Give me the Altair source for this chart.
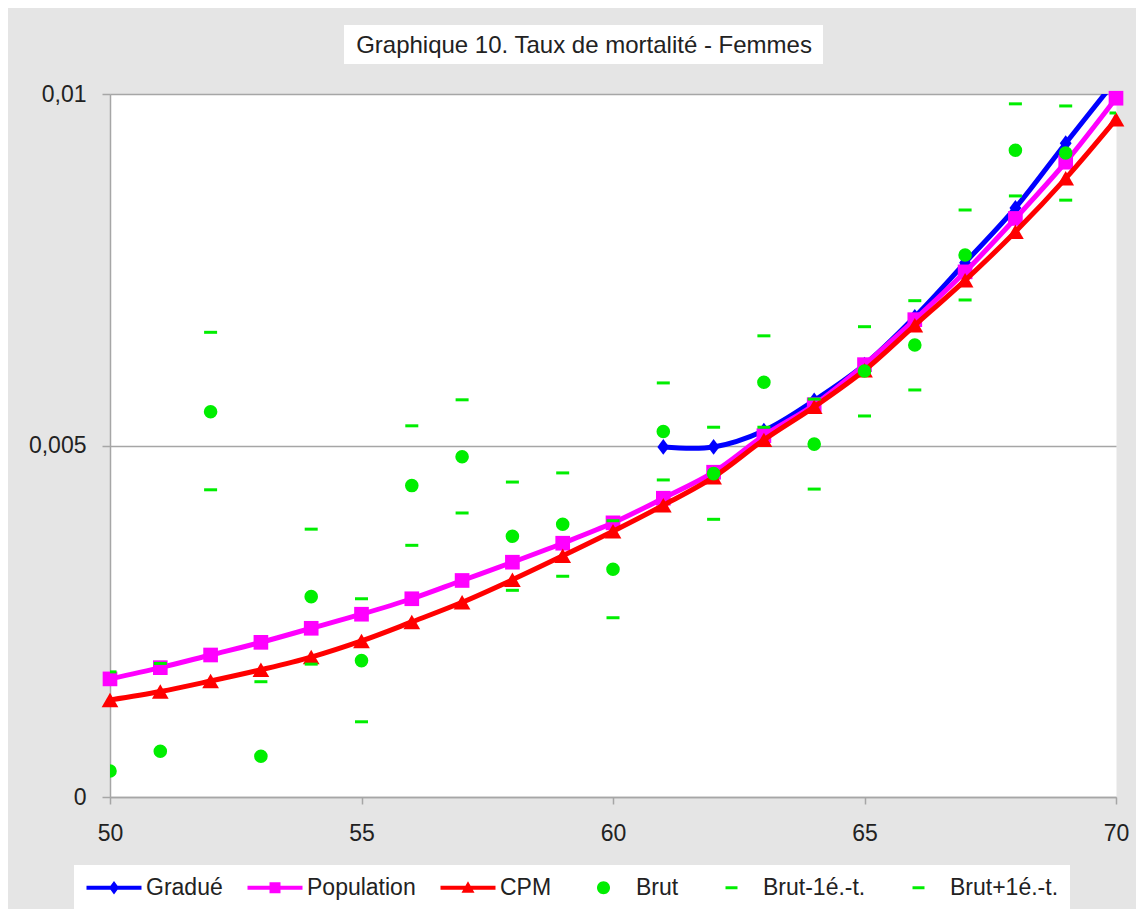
import altair as alt
import pandas as pd

# ---------------- data ----------------
ages = list(range(50, 71))

gradue = [None, None, None, None, None, None, None, None, None, None, None,
          0.00498, 0.00498, 0.00521, 0.00564, 0.00615, 0.00683, 0.00760, 0.00838, 0.00930, 0.01020]

population = [0.00168, 0.00184, 0.00202, 0.00220, 0.00240, 0.00260, 0.00282, 0.00308, 0.00334, 0.00361,
              0.00390, 0.00425, 0.00462, 0.00514, 0.00558, 0.00615, 0.00679, 0.00747, 0.00823, 0.00903, 0.00994]

cpm = [0.00138, 0.00150, 0.00165, 0.00181, 0.00199, 0.00222, 0.00249, 0.00277, 0.00309, 0.00343,
       0.00378, 0.00415, 0.00455, 0.00508, 0.00555, 0.00607, 0.00671, 0.00735, 0.00804, 0.00880, 0.00964]

brut = [0.00037, 0.00065, 0.00548, 0.00058, 0.00285, 0.00194, 0.00443, 0.00484, 0.00371, 0.00388,
        0.00324, 0.00520, 0.00460, 0.00590, 0.00502, 0.00606, 0.00643, 0.00771, 0.00920, 0.00916, None]

brut_moins = [None, None, 0.00437, None, 0.00189, 0.00107, 0.00358, 0.00404, 0.00294, 0.00314,
              0.00255, 0.00451, 0.00395, 0.00526, 0.00438, 0.00542, 0.00579, 0.00707, 0.00855, 0.00849, 0.00973]

brut_plus = [0.00178, 0.00190, 0.00661, 0.00164, 0.00381, 0.00282, 0.00528, 0.00565, 0.00448, 0.00461,
             0.00393, 0.00589, 0.00526, 0.00656, 0.00566, 0.00669, 0.00706, 0.00835, 0.00986, 0.00983, None]

series_names = ["Gradué", "Population", "CPM", "Brut", "Brut-1é.-t.", "Brut+1é.-t."]
series_colors = ["#0000ff", "#ff00ff", "#ff0000", "#00ee00", "#00ee00", "#00ee00"]

x_ticks = [50, 55, 60, 65, 70]
y_ticks = [0, 0.005, 0.01]
title_text = "Graphique 10. Taux de mortalité - Femmes"

# ---------------- styling ----------------
FONT = "Liberation Sans"
GRAY = "#a6a6a6"
TXT = "#222222"

legend_paths = [
    "M-1,-0.2H4.5V0.2H-1Z M1.75,-0.68L2.25,0L1.75,0.68L1.25,0Z",
    "M-1,-0.2H4.5V0.2H-1Z M1.2,-0.55H2.3V0.55H1.2Z",
    "M-1,-0.2H4.5V0.2H-1Z M1.75,-0.65L2.4,0.5H1.1Z",
    "M1.05,0A0.65,0.65 0 1,1 2.35,0A0.65,0.65 0 1,1 1.05,0Z",
    "M1.2,-0.15H2.4V0.15H1.2Z",
    "M1.2,-0.15H2.4V0.15H1.2Z",
]
diamond_path = "M0,-1L0.75,0L0,1L-0.75,0Z"

df = pd.DataFrame({
    "age": ages,
    "gradue": gradue,
    "population": population,
    "cpm": cpm,
    "brut": brut,
    "brut_moins": brut_moins,
    "brut_plus": brut_plus,
})

x_axis = alt.Axis(values=x_ticks, grid=False, title=None, domainColor=GRAY, domainWidth=1.5,
                  tickColor=GRAY, tickWidth=1.5, tickSize=7, labelFont=FONT, labelFontSize=23,
                  labelColor=TXT, labelPadding=18, labelFlush=False)
y_axis = alt.Axis(values=y_ticks, grid=True, gridColor=GRAY, gridWidth=1.5, title=None,
                  domainColor=GRAY, domainWidth=1.5, tickColor=GRAY, tickWidth=1.5, tickSize=8,
                  labelFont=FONT, labelFontSize=23, labelColor=TXT, labelPadding=16,
                  labelExpr="replace(format(datum.value, '~g'), '.', ',')")

X = alt.X("age:Q", scale=alt.Scale(domain=[50, 70], nice=False, zero=False), axis=x_axis)


def Y(field):
    return alt.Y(f"{field}:Q", scale=alt.Scale(domain=[0, 0.01], nice=False), axis=y_axis)


base = alt.Chart(df)
one = pd.DataFrame({"k": [0]})

title_box = alt.Chart(one).mark_rect(color="white").encode(
    x=alt.value(234), x2=alt.value(713), y=alt.value(-69), y2=alt.value(-30)
)
title_txt = alt.Chart(one).mark_text(font=FONT, fontSize=24, color=TXT, align="center",
                                     baseline="middle").encode(
    x=alt.value(474), y=alt.value(-48), text=alt.value(title_text)
)

g_line = base.mark_line(color=series_colors[0], strokeWidth=5, interpolate="catmull-rom", clip=True).encode(x=X, y=Y("gradue"))
g_pts = base.mark_point(shape=diamond_path, filled=True, size=250, color=series_colors[0], opacity=1, clip=True).encode(x=X, y=Y("gradue"))

p_line = base.mark_line(color=series_colors[1], strokeWidth=5, interpolate="catmull-rom", clip=True).encode(x=X, y=Y("population"))
p_pts = base.mark_point(shape="square", filled=True, size=215, color=series_colors[1], opacity=1).encode(x=X, y=Y("population"))

c_line = base.mark_line(color=series_colors[2], strokeWidth=5, interpolate="catmull-rom", clip=True).encode(x=X, y=Y("cpm"))
c_pts = base.mark_point(shape="triangle-up", filled=True, size=280, color=series_colors[2], opacity=1).encode(x=X, y=Y("cpm"))

b_pts = base.mark_point(shape="circle", filled=True, size=185, color=series_colors[3], opacity=1, clip=True).encode(x=X, y=Y("brut"))
m_ticks = base.mark_tick(orient="horizontal", size=13, thickness=3, color=series_colors[4], opacity=1, clip=True).encode(x=X, y=Y("brut_moins"))
pl_ticks = base.mark_tick(orient="horizontal", size=13, thickness=3, color=series_colors[5], opacity=1, clip=True).encode(x=X, y=Y("brut_plus"))

legend_props = dict(orient="none", legendX=-36, legendY=771, direction="horizontal", columns=6,
                    title=None, symbolSize=400, symbolStrokeWidth=0, symbolOpacity=1,
                    labelFont=FONT, labelFontSize=23, labelColor=TXT, labelOffset=38,
                    columnPadding=23, fillColor="white", padding=11)

legend_layer = alt.Chart(pd.DataFrame({"serie": series_names})).mark_point(
    filled=True, opacity=1, clip=True
).encode(
    x=alt.value(-600), y=alt.value(-600),
    color=alt.Color("serie:N", scale=alt.Scale(domain=series_names, range=series_colors),
                    legend=alt.Legend(**legend_props)),
    shape=alt.Shape("serie:N", scale=alt.Scale(domain=series_names, range=legend_paths),
                    legend=alt.Legend(**legend_props)),
)

chart = alt.layer(
    title_box, title_txt, g_line, g_pts, p_line, p_pts, c_line, c_pts, b_pts, m_ticks, pl_ticks, legend_layer
).properties(
    width=1006, height=703,
    autosize=alt.AutoSizeParams(type="none"),
    padding={"left": 102, "top": 86, "right": 20, "bottom": 112},
    background="#e5e5e5",
).configure_view(fill="white", stroke="transparent")

chart.save("out.html", embed_options={"renderer": "svg", "actions": False})
